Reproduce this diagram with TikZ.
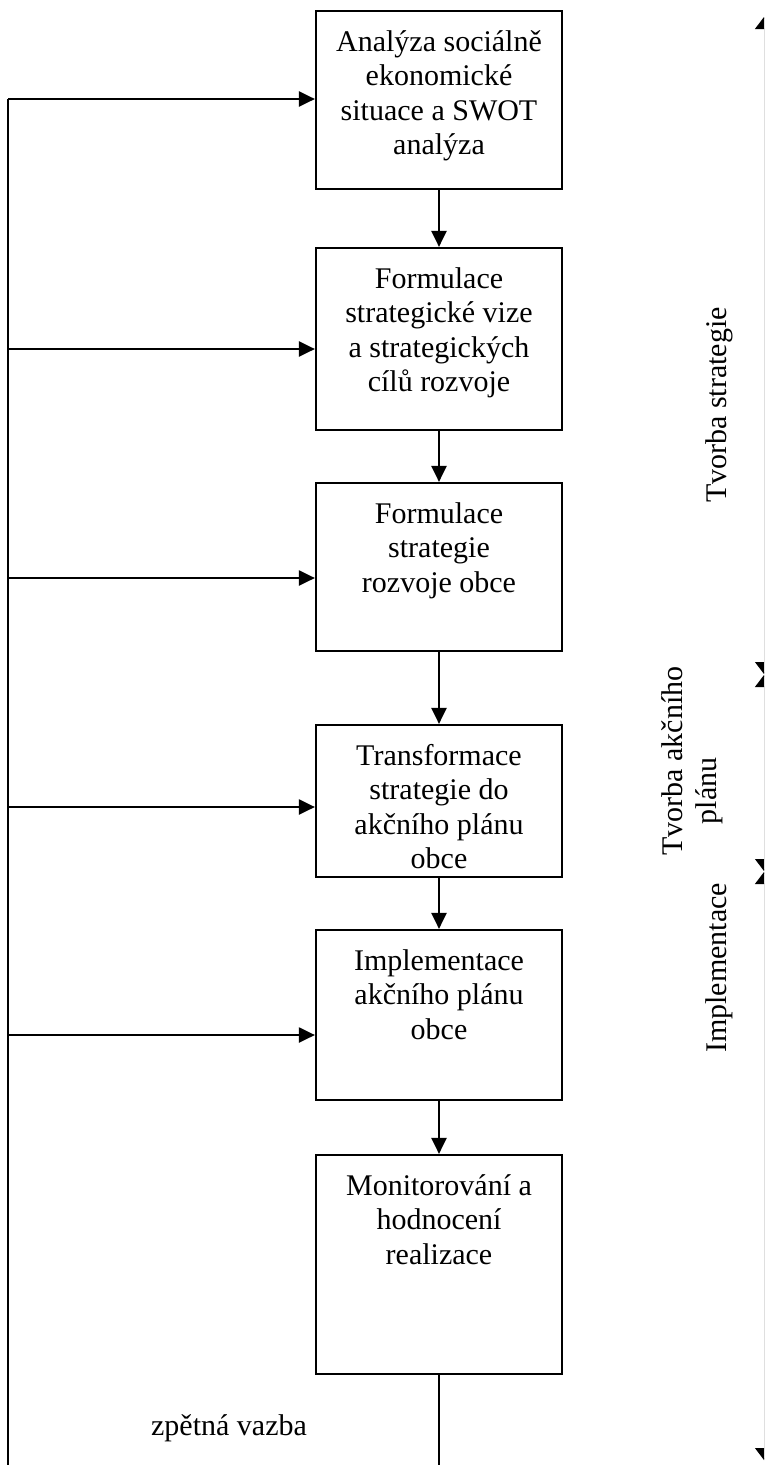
\documentclass[tikz,border=0pt]{standalone}
\usepackage{fontspec}
\setmainfont{Liberation Serif}
\usetikzlibrary{arrows.meta}
\newcommand\steptext[2]{\parbox[c][#1][t]{246pt}{\centering\rule{0pt}{40pt}#2}}
\begin{document}
\begin{tikzpicture}[x=1pt,y=-1pt,
  stepbox/.style={draw,line width=2.2pt,inner sep=0pt,minimum width=246pt,
    font=\fontsize{30}{34.5}\selectfont},
  flow/.style={line width=2.2pt,-{Triangle[length=16pt,width=15pt]}},
  link/.style={line width=2.2pt},
  phase/.style={line width=1pt,
    {Triangle[length=12pt,width=18pt]}-{Triangle[length=12pt,width=18pt]}},
  lbl/.style={inner sep=0pt,font=\fontsize{30}{34.5}\selectfont}
]
\useasboundingbox (0,0) rectangle (764,1465);
\clip (0,0) rectangle (764,1465);

% process steps
\node[stepbox] (b1) at (439,100)  {\steptext{178pt}{Analýza sociálně\\ekonomické\\situace a SWOT\\analýza}};
\node[stepbox] (b2) at (439,339)  {\steptext{182pt}{Formulace\\strategické vize\\a strategických\\cílů rozvoje}};
\node[stepbox] (b3) at (439,567)  {\steptext{168pt}{Formulace\\strategie\\rozvoje obce}};
\node[stepbox] (b4) at (439,801)  {\steptext{152pt}{Transformace\\strategie do\\akčního plánu\\obce}};
\node[stepbox] (b5) at (439,1015) {\steptext{170pt}{Implementace\\akčního plánu\\obce}};
\node[stepbox] (b6) at (439,1264.5) {\steptext{219pt}{Monitorování a\\hodnocení\\realizace}};

% main sequence
\draw[flow] (b1) -- (b2);
\draw[flow] (b2) -- (b3);
\draw[flow] (b3) -- (b4);
\draw[flow] (b4) -- (b5);
\draw[flow] (b5) -- (b6);

% feedback loop
\coordinate (fbB) at (439,1490);
\coordinate (fbC) at (8,1490);
\coordinate (fb1) at (8,99);
\coordinate (fb2) at (8,349);
\coordinate (fb3) at (8,578);
\coordinate (fb4) at (8,807);
\coordinate (fb5) at (8,1035);
\draw[link] (b6.south) -- (fbB) -- (fbC) -- (fb1);
\draw[flow] (fb1) -- (fb1 -| b1.west);
\draw[flow] (fb2) -- (fb2 -| b2.west);
\draw[flow] (fb3) -- (fb3 -| b3.west);
\draw[flow] (fb4) -- (fb4 -| b4.west);
\draw[flow] (fb5) -- (fb5 -| b5.west);
\node[lbl] (fbl) at (229,1428) {zpětná vazba};

% phases
\coordinate (p0) at (764,17);
\coordinate (p1) at (764,674);
\coordinate (p1b) at (764,675);
\coordinate (p2) at (764,871);
\coordinate (p2b) at (764,872);
\coordinate (p3) at (764,1460);
\draw[phase] (p0) -- (p1);
\draw[phase] (p1b) -- (p2);
\draw[phase] (p2b) -- (p3);
\node[lbl,rotate=90] (ph1) at (719,405) {Tvorba strategie};
\node[lbl,rotate=90,align=center] (ph2) at (692,761) {Tvorba akčního\\plánu\hspace*{60pt}};
\node[lbl,rotate=90] (ph3) at (719,968) {Implementace};
\end{tikzpicture}
\end{document}
